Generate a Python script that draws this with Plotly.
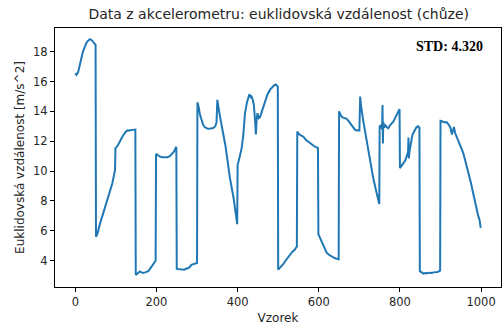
import plotly.graph_objects as go

# Euclidean norm of accelerometer samples (walking), read at key sample indices
vzorek = [
    0, 3, 7, 11, 15, 19, 23, 27, 31, 36, 40, 44, 48, 50,
    51, 55, 60, 66, 73, 79, 85, 91, 97, 98,
    99, 102, 106, 110, 114, 118, 122, 126, 130, 135, 140, 147, 148,
    149, 153, 159, 163, 167, 172, 176, 180, 184, 188, 192, 196, 198,
    199, 203, 208, 214, 221, 227, 233, 238, 243, 248, 249,
    250, 256, 262, 268, 274, 280, 286, 292, 299, 300,
    301, 304, 307, 311, 315, 320, 327, 333, 340, 345, 348, 350,
    352, 356, 362, 370, 381, 390, 399,
    400, 405, 410, 414, 418, 423, 429, 432, 434, 437, 440, 443, 445, 447, 449, 452, 455, 461, 467, 473, 480, 485, 490, 494, 498, 499,
    500, 506, 512, 518, 523, 529, 535, 540, 545, 546,
    547, 552, 557, 562, 568, 573, 578, 583, 588, 593, 597, 598,
    599, 603, 607, 612, 619, 625, 630, 636, 642, 648, 649,
    650, 653, 656, 660, 665, 669, 675, 681, 685, 689, 694, 700, 702,
    704, 710, 718, 726, 734, 742, 749,
    750, 753, 756, 757, 758, 759, 761, 763, 767, 771, 775, 779, 784, 789, 794, 799,
    800, 804, 808, 813, 818, 820, 821, 822, 823, 826, 829, 831, 836, 841, 845, 848,
    849, 853, 858, 863, 868, 873, 878, 883, 888, 893, 899,
    900, 905, 910, 915, 920, 925, 928, 931, 933, 936, 940, 944, 948, 952, 956, 961, 965, 969, 975, 981, 985, 990, 993, 996, 997, 999,
]
vzdalenost = [
    16.56, 16.44, 16.62, 17.00, 17.55, 18.00, 18.30, 18.56, 18.72, 18.83, 18.78, 18.67, 18.55, 18.45,
    5.60, 5.85, 6.40, 6.95, 7.63, 8.10, 8.63, 9.15, 9.95, 10.10,
    11.55, 11.62, 11.78, 11.95, 12.20, 12.40, 12.58, 12.68, 12.74, 12.72, 12.76, 12.74, 12.78,
    3.05, 3.12, 3.28, 3.22, 3.18, 3.22, 3.25, 3.30, 3.45, 3.62, 3.78, 3.92, 4.00,
    11.15, 11.05, 10.98, 10.93, 10.90, 10.92, 11.00, 11.12, 11.30, 11.58, 11.62,
    3.45, 3.42, 3.44, 3.40, 3.48, 3.52, 3.72, 3.78, 3.82, 3.85,
    14.60, 14.30, 13.80, 13.40, 13.10, 12.92, 12.83, 12.85, 12.88, 13.00, 13.25, 14.77,
    14.30, 13.75, 12.85, 11.70, 9.55, 8.20, 6.45,
    10.40, 10.95, 11.55, 12.40, 13.85, 14.60, 15.15, 14.95, 15.00, 14.80, 14.43, 13.40, 12.45, 13.50, 13.88, 13.55, 13.60, 14.10, 14.65, 15.10, 15.45, 15.62, 15.75, 15.80, 15.70, 15.66,
    3.40, 3.55, 3.75, 4.00, 4.20, 4.42, 4.60, 4.72, 4.90, 4.95,
    12.65, 12.45, 12.38, 12.30, 12.10, 11.98, 11.86, 11.78, 11.68, 11.60, 11.58, 11.55,
    5.78, 5.55, 5.28, 4.95, 4.55, 4.40, 4.30, 4.22, 4.15, 4.12, 4.10,
    14.00, 13.80, 13.65, 13.58, 13.55, 13.50, 13.30, 13.10, 12.92, 12.78, 12.72, 12.72, 14.99,
    14.40, 13.30, 11.98, 10.75, 9.55, 8.60, 7.80,
    13.00, 13.05, 12.80, 14.43, 11.85, 13.30, 12.90, 13.12, 12.95, 12.87, 13.05, 13.15, 13.32, 13.60, 13.85, 14.15,
    10.20, 10.35, 10.45, 10.70, 11.10, 11.30, 12.25, 10.85, 11.20, 11.70, 12.05, 12.45, 12.70, 12.95, 13.00, 12.90,
    3.30, 3.20, 3.14, 3.18, 3.16, 3.20, 3.18, 3.22, 3.24, 3.25, 3.33,
    13.36, 13.32, 13.25, 13.28, 13.12, 12.87, 12.45, 12.75, 12.95, 12.55, 12.28, 12.05, 11.65, 11.45, 11.20, 10.70, 10.30, 9.95, 9.20, 8.45, 7.90, 7.20, 6.98, 6.75, 6.30, 6.20,
]

std_label = "STD: 4.320"
titulek = "Data z akcelerometru: euklidovská vzdálenost (chůze)"
osa_x = "Vzorek"
osa_y = "Euklidovská vzdálenost [m/s^2]"

text_color = "#262626"

fig = go.Figure()
fig.add_trace(go.Scatter(
    x=vzorek, y=vzdalenost, mode="lines",
    line=dict(color="#1f77b4", width=2),
    showlegend=False, hoverinfo="skip",
))

axis_common = dict(
    showgrid=False, zeroline=False,
    showline=True, linecolor="black", linewidth=1, mirror=True,
    ticks="outside", ticklen=4, tickwidth=1, tickcolor="black",
    tickfont=dict(family="DejaVu Sans", size=11.5, color=text_color),
)

fig.update_layout(
    width=504, height=327,
    margin=dict(l=55, r=3, t=28, b=40),
    paper_bgcolor="white", plot_bgcolor="white",
    title=dict(text=titulek, x=0.553, xanchor="center", y=0.957, yanchor="middle",
               font=dict(family="DejaVu Sans", size=14, color=text_color)),
    xaxis=dict(range=[-50, 1049], tickmode="array", tickvals=[0, 200, 400, 600, 800, 1000],
               title=dict(text=osa_x, font=dict(family="DejaVu Sans", size=12, color=text_color), standoff=5),
               **axis_common),
    yaxis=dict(range=[2.24, 19.58], tickmode="array", tickvals=[4, 6, 8, 10, 12, 14, 16, 18],
               title=dict(text=osa_y, font=dict(family="DejaVu Sans", size=12, color=text_color), standoff=5),
               **axis_common),
    annotations=[dict(
        text=f"<b>{std_label}</b>", xref="paper", yref="paper", x=0.964, y=0.93,
        xanchor="right", yanchor="middle", showarrow=False,
        font=dict(family="Liberation Serif", size=14, color="black"),
    )],
)

fig.write_html("out.html")
